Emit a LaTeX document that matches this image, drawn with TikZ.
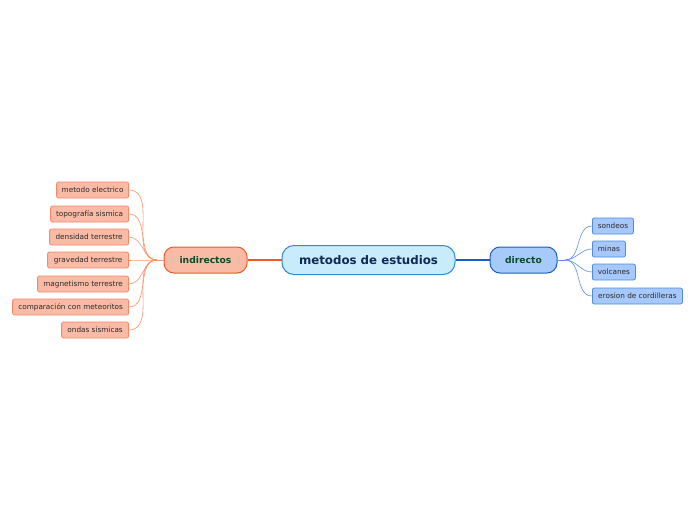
\documentclass[tikz,border=0pt]{standalone}
\usepackage{fontspec}
\setmainfont{DejaVu Sans}
\definecolor{cfill}{HTML}{C9ECFC}
\definecolor{cdraw}{HTML}{2E8BD4}
\definecolor{ctext}{HTML}{0E2A55}
\definecolor{ofill}{HTML}{F9BBA5}
\definecolor{odraw}{HTML}{F05A28}
\definecolor{olfill}{HTML}{F9BBA5}
\definecolor{oldraw}{HTML}{F58A68}
\definecolor{oline}{HTML}{F7936E}
\definecolor{bfill}{HTML}{A6CBFA}
\definecolor{bdraw}{HTML}{1A5CC8}
\definecolor{blfill}{HTML}{A6C8FA}
\definecolor{bldraw}{HTML}{4F8BE6}
\definecolor{bline}{HTML}{5C92EA}
\definecolor{gtext}{HTML}{0B4A2A}
\definecolor{ltext}{HTML}{2A2A2A}
\tikzset{
  central/.style={draw=cdraw, fill=cfill, line width=1pt, rounded corners=12pt,
    minimum width=173pt, minimum height=29pt, inner sep=0pt,
    font=\fontsize{11.8}{14}\selectfont\bfseries, text=ctext},
  branchL/.style={draw=odraw, fill=ofill, line width=1pt, rounded corners=10pt,
    minimum width=83pt, minimum height=26pt, inner sep=0pt,
    font=\fontsize{9.2}{11}\selectfont\bfseries, text=gtext},
  branchR/.style={draw=bdraw, fill=bfill, line width=1pt, rounded corners=10pt,
    minimum width=67pt, minimum height=26pt, inner sep=0pt,
    font=\fontsize{9.2}{11}\selectfont\bfseries, text=gtext},
  leafL/.style={draw=oldraw, fill=olfill, line width=0.8pt, rounded corners=2pt,
    minimum width=#1, minimum height=16pt, inner sep=0pt, anchor=east,
    font=\fontsize{7.3}{9}\selectfont, text=ltext},
  leafR/.style={draw=bldraw, fill=blfill, line width=0.8pt, rounded corners=2pt,
    minimum width=#1, minimum height=16pt, inner sep=0pt, anchor=west,
    font=\fontsize{7.3}{9}\selectfont, text=ltext},
  linkL/.style={draw=oline, line width=0.6pt},
  linkR/.style={draw=bline, line width=0.6pt},
}
\begin{document}
\begin{tikzpicture}[x=1pt,y=-1pt]
\useasboundingbox (0,0) rectangle (696,520);
\fill[white] (0,0) rectangle (696,520);
% main nodes
\node[central] (c) at (368.5,260) {metodos de estudios};
\node[branchL] (ind) at (205.5,260) {indirectos};
\node[branchR] (dir) at (523.5,260) {directo};
\draw[draw=odraw, line width=1.6pt] (ind.east) -- (c.west);
\draw[draw=bdraw, line width=1.6pt] (c.east) -- (dir.west);
% left leaves
\node[leafL=72pt] (l1) at (129,190) {metodo electrico};
\node[leafL=78pt] (l2) at (129,214) {topografía sismica};
\node[leafL=79pt] (l3) at (129,237) {densidad terrestre};
\node[leafL=81pt] (l4) at (129,260) {gravedad terrestre};
\node[leafL=91pt] (l5) at (129,284) {magnetismo terrestre};
\node[leafL=116pt] (l6) at (129,307) {comparación con meteoritos};
\node[leafL=67pt] (l7) at (129,330) {ondas sismicas};
\coordinate (lj) at (157,260);
\draw[linkL] (ind.west) -- (lj);
\foreach \n in {l1,l2,l3,l4,l5,l6,l7}{
  \draw[linkL] (lj) to[out=180,in=0] (\n.east);
}
% right leaves
\node[leafR=41pt] (r1) at (592,226) {sondeos};
\node[leafR=33pt] (r2) at (592,249) {minas};
\node[leafR=43pt] (r3) at (592,272) {volcanes};
\node[leafR=90pt] (r4) at (592,296) {erosion de cordilleras};
\coordinate (rj) at (565,260);
\draw[linkR] (dir.east) -- (rj);
\foreach \n in {r1,r2,r3,r4}{
  \draw[linkR] (rj) to[out=0,in=180] (\n.west);
}
\end{tikzpicture}
\end{document}
